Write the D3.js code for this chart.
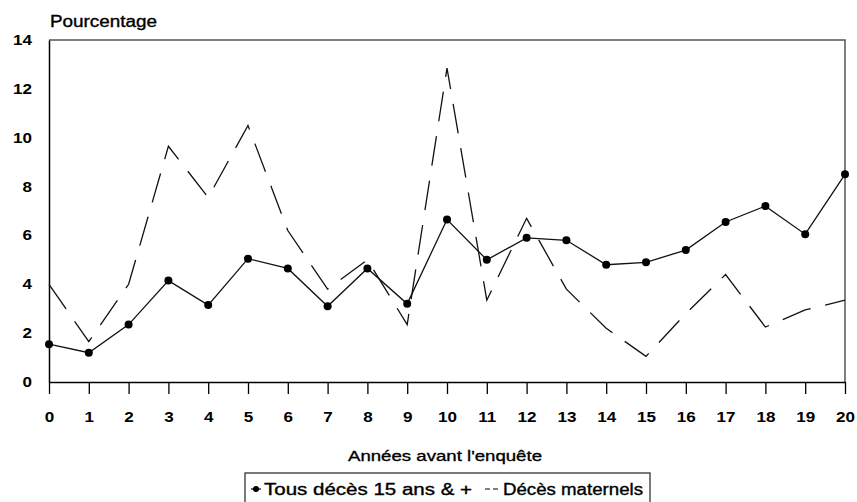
<!DOCTYPE html>
<html>
<head>
<meta charset="utf-8">
<script src="https://cdn.jsdelivr.net/npm/d3@7"></script>
<style>
  html, body { margin: 0; padding: 0; background: #fff; }
  svg { display: block; }
  text { font-family: "Liberation Sans", Arial, sans-serif; fill: #000; }
</style>
</head>
<body>
<svg id="chart" width="857" height="502"></svg>
<script>
// Years before the survey
const years = d3.range(0, 21);
// All deaths, age 15 and over (%)
const tousDeces = [1.55, 1.2, 2.35, 4.15, 3.15, 5.05, 4.65, 3.1, 4.65, 3.2, 6.65,
                   5.0, 5.9, 5.8, 4.8, 4.9, 5.4, 6.55, 7.2, 6.05, 8.5];
// Maternal deaths (%)
const decesMaternels = [4.0, 1.65, 4.0, 9.65, 7.55, 10.5, 6.2, 3.8, 5.0, 2.35, 12.85,
                        3.35, 6.7, 3.8, 2.2, 1.05, 2.8, 4.4, 2.25, 2.95, 3.35];
const yTicks = [0, 2, 4, 6, 8, 10, 12, 14];
const seriesNames = ["Tous décès 15 ans & +", "Décès maternels"];

const svg = d3.select("#chart");
const stretch = 1.22; // wide lettering of the printed figure

const x = d3.scaleLinear().domain([0, 20]).range([49, 845]);
const y = d3.scaleLinear().domain([0, 14]).range([382, 40]);

// frame (top and right)
svg.append("path")
  .attr("d", `M${x(0)},${y(14)}H${x(20)}V${y(0)}`)
  .attr("fill", "none").attr("stroke", "#555").attr("stroke-width", 1.5);

// x axis
const gx = svg.append("g").attr("transform", `translate(0,${y(0)})`)
  .call(d3.axisBottom(x).tickValues(years).tickFormat(d3.format("d"))
    .tickSize(12).tickSizeOuter(0).tickPadding(18));
gx.select(".domain").attr("stroke", "#000").attr("stroke-width", 1.5);
gx.selectAll(".tick line").attr("stroke", "#000").attr("stroke-width", 1.3);
gx.selectAll(".tick text")
  .attr("font-size", 14).attr("font-weight", "bold")
  .attr("font-family", "Liberation Sans, Arial, sans-serif")
  .attr("transform", `scale(${stretch},1)`);

// y axis
const gy = svg.append("g").attr("transform", `translate(${x(0)},0)`)
  .call(d3.axisLeft(y).tickValues(yTicks).tickFormat(d3.format("d"))
    .tickSize(0).tickSizeOuter(0).tickPadding(17 / stretch));
gy.select(".domain").attr("stroke", "#000").attr("stroke-width", 1.5);
gy.selectAll(".tick text")
  .attr("font-size", 14).attr("font-weight", "bold")
  .attr("font-family", "Liberation Sans, Arial, sans-serif")
  .attr("transform", `scale(${stretch},1)`);

// text with the wide, slightly heavy lettering of the titles
function titleText(tx, ty, str, size, width, anchor) {
  return svg.append("text")
    .attr("x", tx).attr("y", ty)
    .attr("font-size", size)
    .attr("text-anchor", anchor || "start")
    .attr("textLength", width).attr("lengthAdjust", "spacingAndGlyphs")
    .attr("stroke", "#000").attr("stroke-width", 0.35)
    .text(str);
}
titleText(50, 27, "Pourcentage", 16, 107);
titleText(445, 461, "Années avant l'enquête", 15.5, 194, "middle");

// series lines
const line = d3.line().x((d, i) => x(years[i])).y(d => y(d));

svg.append("path").datum(decesMaternels)
  .attr("d", line).attr("fill", "none")
  .attr("stroke", "#111").attr("stroke-width", 1.3)
  .attr("stroke-dasharray", "30,15");

svg.append("path").datum(tousDeces)
  .attr("d", line).attr("fill", "none")
  .attr("stroke", "#111").attr("stroke-width", 1.3);

svg.append("g").selectAll("circle").data(tousDeces).join("circle")
  .attr("cx", (d, i) => x(years[i])).attr("cy", d => y(d))
  .attr("r", 4).attr("fill", "#000");

// legend
const lg = svg.append("g");
lg.append("rect").attr("x", 245).attr("y", 473).attr("width", 405).attr("height", 40)
  .attr("fill", "none").attr("stroke", "#333").attr("stroke-width", 1.3);
lg.append("line").attr("x1", 251).attr("x2", 261).attr("y1", 489).attr("y2", 489)
  .attr("stroke", "#000").attr("stroke-width", 1.2);
lg.append("circle").attr("cx", 256).attr("cy", 489).attr("r", 3).attr("fill", "#000");
titleText(264, 495, seriesNames[0], 16, 208);
lg.append("line").attr("x1", 485).attr("x2", 499).attr("y1", 489).attr("y2", 489)
  .attr("stroke", "#000").attr("stroke-width", 1.2).attr("stroke-dasharray", "5,3");
titleText(503, 495, seriesNames[1], 16, 140);
</script>
</body>
</html>
